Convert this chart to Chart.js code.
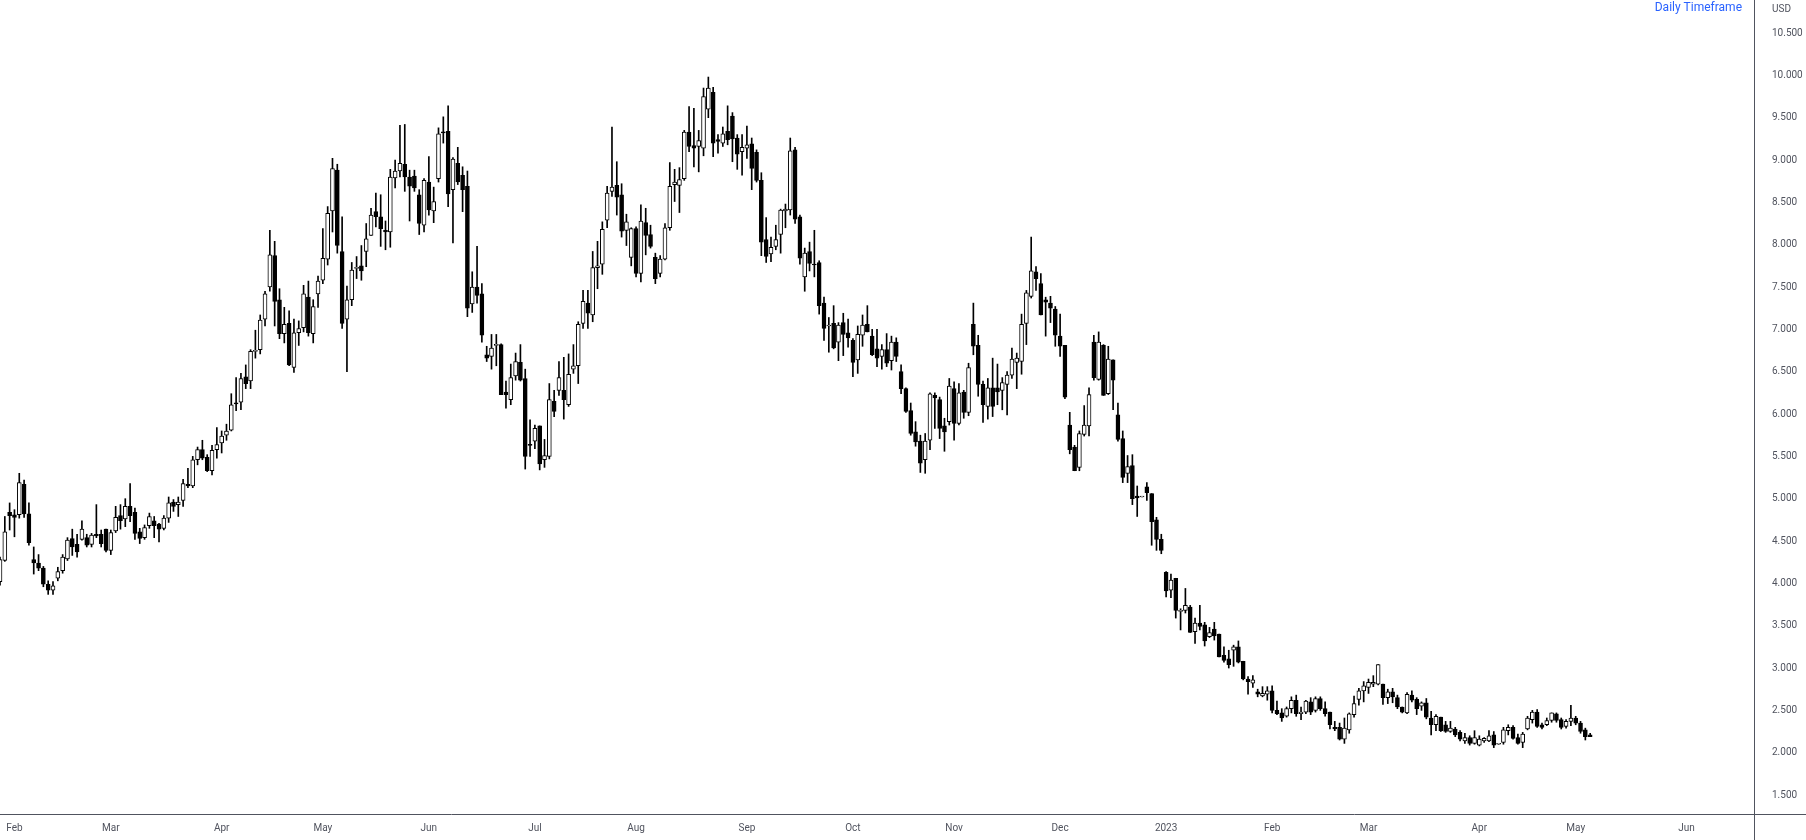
<!DOCTYPE html>
<html>
<head>
<meta charset="utf-8">
<title>velas diarias</title>
<script src="https://cdn.jsdelivr.net/npm/chart.js@4.4.1/dist/chart.umd.min.js"></script>
<style>
  html, body { margin: 0; padding: 0; background: #ffffff; }
  #grafico { display: block; }
</style>
</head>
<body>
<canvas id="grafico" width="1806" height="840"></canvas>
<script>
"use strict";
/* velas diarias - valores leidos a ojo del grafico */

var fechaInicio = "2022-01-27";
var totalDias = 365; // dias habiles del eje, incluye el hueco de la derecha
var nombresMes = ["Jan", "Feb", "Mar", "Apr", "May", "Jun", "Jul", "Aug", "Sep", "Oct", "Nov", "Dec"];
var ticksPrecio = [1.5, 2, 2.5, 3, 3.5, 4, 4.5, 5, 5.5, 6, 6.5, 7, 7.5, 8, 8.5, 9, 9.5, 10, 10.5];

var apertura = [
  4.02, 4.27, 4.84, 4.81, 4.81, 5.17, 4.82, 4.28, 4.24, 4.18,
  3.99, 3.92, 4.06, 4.15, 4.29, 4.53, 4.46, 4.52, 4.54, 4.46,
  4.58, 4.58, 4.64, 4.39, 4.62, 4.80, 4.76, 4.91, 4.84, 4.61,
  4.54, 4.68, 4.74, 4.70, 4.65, 4.77, 4.96, 4.93, 4.98, 5.17,
  5.15, 5.46, 5.58, 5.49, 5.33, 5.58, 5.66, 5.75, 5.81, 6.13,
  6.14, 6.44, 6.39, 6.74, 6.76, 7.12, 7.50, 7.87, 7.35, 6.95,
  7.07, 6.55, 6.96, 7.02, 7.38, 6.95, 7.42, 7.58, 7.83, 8.40,
  8.88, 7.92, 7.12, 7.35, 7.72, 7.75, 7.92, 8.11, 8.39, 8.33,
  8.17, 8.15, 8.79, 8.87, 8.95, 8.80, 8.81, 8.59, 8.23, 8.74,
  8.40, 8.78, 9.33, 9.34, 8.65, 8.96, 8.82, 8.69, 7.30, 7.50,
  7.42, 6.70, 6.68, 6.81, 6.82, 6.26, 6.17, 6.45, 6.61, 6.42,
  5.64, 5.68, 5.86, 5.46, 5.50, 6.15, 6.28, 6.28, 6.11, 6.53,
  6.57, 7.07, 7.31, 7.17, 7.73, 7.77, 8.29, 8.63, 8.70, 8.59,
  8.17, 7.85, 8.19, 7.66, 8.26, 8.12, 7.85, 7.66, 7.83, 8.20,
  8.71, 8.70, 8.78, 9.33, 9.17, 9.16, 9.14, 9.60, 9.80, 9.24,
  9.20, 9.34, 9.52, 9.26, 9.10, 9.14, 9.19, 9.09, 8.76, 8.06,
  7.89, 7.98, 8.12, 8.40, 8.41, 9.12, 8.33, 7.62, 7.92, 7.77,
  7.79, 7.31, 7.04, 7.07, 6.85, 7.08, 6.96, 6.87, 6.64, 6.93,
  7.06, 6.92, 6.77, 6.68, 6.76, 6.63, 6.85, 6.50, 6.30, 6.04,
  5.79, 5.68, 5.46, 5.69, 6.22, 6.17, 5.86, 5.91, 6.30, 5.89,
  6.26, 6.02, 7.06, 6.81, 6.35, 6.09, 6.31, 6.31, 6.28, 6.35,
  6.46, 6.61, 6.62, 7.07, 7.39, 7.68, 7.54, 7.35, 7.31, 7.24,
  6.92, 6.81, 5.87, 5.61, 5.37, 5.76, 5.86, 6.85, 6.41, 6.81,
  6.24, 6.64, 5.99, 5.71, 5.30, 5.39, 5.03, 5.02, 5.14, 5.06,
  4.75, 4.52, 4.13, 3.92, 4.06, 3.67, 3.68, 3.72, 3.43, 3.53,
  3.51, 3.37, 3.46, 3.40, 3.15, 3.11, 3.21, 3.25, 3.08, 2.87,
  2.82, 2.72, 2.67, 2.69, 2.73, 2.50, 2.47, 2.43, 2.52, 2.62,
  2.46, 2.48, 2.60, 2.50, 2.64, 2.52, 2.48, 2.30, 2.30, 2.16,
  2.27, 2.45, 2.63, 2.73, 2.77, 2.81, 2.81, 2.81, 2.65, 2.72,
  2.65, 2.54, 2.47, 2.68, 2.63, 2.55, 2.59, 2.41, 2.33, 2.42,
  2.33, 2.25, 2.28, 2.24, 2.14, 2.18, 2.11, 2.09, 2.14, 2.14,
  2.21, 2.10, 2.12, 2.26, 2.30, 2.18, 2.12, 2.28, 2.39, 2.48,
  2.33, 2.33, 2.38, 2.46, 2.39, 2.31, 2.37, 2.41, 2.35, 2.27,
  2.21
];

var maximo = [
  4.31, 4.79, 4.95, 4.87, 5.30, 5.22, 4.95, 4.43, 4.34, 4.20,
  4.03, 4.02, 4.19, 4.34, 4.54, 4.64, 4.58, 4.74, 4.58, 4.59,
  4.93, 4.63, 4.64, 4.63, 4.91, 4.93, 5.00, 5.18, 4.89, 4.65,
  4.69, 4.83, 4.79, 4.71, 4.80, 5.02, 4.99, 5.02, 5.23, 5.36,
  5.50, 5.61, 5.69, 5.52, 5.63, 5.84, 5.80, 5.88, 6.24, 6.43,
  6.48, 6.58, 6.76, 6.99, 7.17, 7.45, 8.17, 8.04, 7.48, 7.26,
  7.22, 7.12, 7.10, 7.52, 7.57, 7.35, 7.63, 8.19, 8.45, 9.02,
  8.95, 8.33, 7.51, 7.79, 7.86, 7.99, 8.25, 8.43, 8.61, 8.59,
  8.28, 8.89, 9.00, 9.41, 9.42, 8.88, 8.88, 8.65, 8.78, 9.04,
  8.68, 9.38, 9.51, 9.64, 9.03, 9.15, 8.92, 8.87, 7.68, 7.98,
  7.54, 6.80, 6.94, 6.94, 6.83, 6.39, 6.59, 6.72, 6.82, 6.53,
  5.93, 5.87, 5.86, 5.70, 6.36, 6.28, 6.62, 6.67, 6.71, 6.82,
  7.09, 7.46, 7.46, 7.92, 8.04, 8.27, 8.69, 9.39, 8.98, 8.72,
  8.36, 8.20, 8.21, 8.47, 8.43, 8.23, 7.90, 7.87, 8.25, 8.97,
  8.89, 8.91, 9.35, 9.63, 9.61, 9.35, 9.85, 9.98, 9.86, 9.30,
  9.39, 9.64, 9.56, 9.30, 9.30, 9.40, 9.26, 9.12, 8.85, 8.32,
  8.09, 8.23, 8.42, 8.48, 9.26, 9.15, 8.35, 7.96, 8.03, 8.17,
  7.81, 7.38, 7.14, 7.28, 7.08, 7.19, 7.12, 6.89, 7.04, 7.17,
  7.28, 7.00, 7.00, 6.82, 6.95, 6.92, 6.90, 6.58, 6.31, 6.13,
  5.91, 5.75, 5.77, 6.25, 6.25, 6.20, 5.95, 6.42, 6.38, 6.36,
  6.28, 6.60, 7.31, 6.93, 6.39, 6.42, 6.66, 6.59, 6.43, 6.50,
  6.78, 6.72, 7.18, 7.46, 8.09, 7.74, 7.66, 7.38, 7.39, 7.27,
  7.18, 6.81, 6.02, 5.63, 5.80, 6.10, 6.31, 6.93, 6.97, 6.82,
  6.80, 6.64, 6.13, 5.80, 5.51, 5.52, 5.15, 5.02, 5.19, 5.06,
  4.78, 4.58, 4.14, 4.11, 4.06, 3.70, 3.94, 3.74, 3.59, 3.74,
  3.54, 3.48, 3.54, 3.40, 3.25, 3.21, 3.27, 3.32, 3.08, 2.90,
  2.91, 2.75, 2.78, 2.78, 2.79, 2.61, 2.52, 2.54, 2.66, 2.68,
  2.54, 2.62, 2.65, 2.66, 2.66, 2.60, 2.48, 2.37, 2.35, 2.41,
  2.47, 2.67, 2.76, 2.84, 2.87, 2.91, 3.04, 2.81, 2.75, 2.76,
  2.68, 2.54, 2.71, 2.73, 2.65, 2.60, 2.64, 2.49, 2.45, 2.42,
  2.37, 2.37, 2.30, 2.26, 2.23, 2.20, 2.26, 2.20, 2.18, 2.26,
  2.25, 2.10, 2.30, 2.33, 2.32, 2.22, 2.24, 2.43, 2.50, 2.51,
  2.35, 2.41, 2.47, 2.47, 2.41, 2.39, 2.56, 2.43, 2.37, 2.29,
  2.23
];

var minimo = [
  3.98, 4.26, 4.63, 4.55, 4.77, 4.78, 4.45, 4.11, 4.15, 3.96,
  3.87, 3.87, 4.03, 4.12, 4.27, 4.33, 4.31, 4.51, 4.43, 4.43,
  4.54, 4.43, 4.37, 4.34, 4.60, 4.64, 4.67, 4.73, 4.52, 4.47,
  4.52, 4.65, 4.54, 4.49, 4.63, 4.72, 4.85, 4.79, 4.91, 5.13,
  5.13, 5.40, 5.46, 5.32, 5.28, 5.48, 5.54, 5.69, 5.80, 6.04,
  6.05, 6.30, 6.30, 6.66, 6.71, 7.04, 7.45, 7.04, 6.89, 6.84,
  6.57, 6.49, 6.81, 6.97, 6.92, 6.84, 7.26, 7.54, 7.76, 8.15,
  7.90, 7.01, 6.50, 7.28, 7.60, 7.58, 7.74, 8.11, 8.21, 7.98,
  7.94, 7.97, 8.67, 8.80, 8.63, 8.28, 8.63, 8.12, 8.15, 8.35,
  8.26, 8.74, 9.20, 8.45, 8.02, 8.71, 8.39, 7.15, 7.20, 7.31,
  6.85, 6.62, 6.53, 6.57, 6.23, 6.07, 6.11, 6.40, 6.39, 5.35,
  5.50, 5.59, 5.34, 5.37, 5.47, 5.97, 6.22, 5.94, 6.09, 6.48,
  6.36, 7.01, 7.01, 7.09, 7.48, 7.65, 8.20, 8.57, 8.35, 8.09,
  7.99, 7.75, 7.62, 7.56, 7.88, 7.96, 7.54, 7.62, 7.82, 8.17,
  8.51, 8.38, 8.76, 9.10, 8.92, 8.86, 9.05, 9.50, 9.04, 9.08,
  9.16, 9.18, 8.98, 8.89, 8.82, 9.02, 8.65, 8.74, 7.87, 7.79,
  7.80, 7.94, 7.90, 8.20, 8.35, 8.25, 7.77, 7.45, 7.69, 7.62,
  7.18, 6.87, 6.73, 6.77, 6.63, 6.69, 6.79, 6.44, 6.48, 6.80,
  6.97, 6.69, 6.56, 6.53, 6.56, 6.52, 6.62, 6.24, 6.02, 5.75,
  5.62, 5.31, 5.30, 5.58, 5.83, 5.71, 5.56, 5.87, 5.69, 5.87,
  5.95, 5.98, 6.70, 6.21, 5.90, 5.94, 5.97, 6.11, 6.05, 5.99,
  6.42, 6.30, 6.47, 6.82, 7.37, 7.46, 7.17, 6.92, 7.08, 6.80,
  6.68, 6.18, 5.53, 5.33, 5.33, 5.74, 5.74, 6.40, 6.40, 6.22,
  6.23, 6.05, 5.68, 5.19, 5.19, 4.93, 4.79, 5.02, 4.98, 4.45,
  4.39, 4.35, 3.84, 3.83, 3.59, 3.45, 3.65, 3.42, 3.29, 3.45,
  3.26, 3.36, 3.33, 3.13, 3.07, 3.00, 3.02, 3.06, 2.86, 2.69,
  2.77, 2.66, 2.66, 2.62, 2.47, 2.45, 2.37, 2.42, 2.47, 2.43,
  2.39, 2.46, 2.45, 2.48, 2.50, 2.43, 2.28, 2.26, 2.15, 2.11,
  2.23, 2.42, 2.56, 2.60, 2.70, 2.78, 2.80, 2.57, 2.58, 2.59,
  2.52, 2.47, 2.46, 2.60, 2.45, 2.50, 2.40, 2.21, 2.26, 2.25,
  2.24, 2.24, 2.19, 2.14, 2.11, 2.09, 2.10, 2.08, 2.12, 2.13,
  2.06, 2.10, 2.10, 2.21, 2.16, 2.10, 2.06, 2.27, 2.35, 2.30,
  2.28, 2.32, 2.36, 2.36, 2.28, 2.29, 2.32, 2.33, 2.23, 2.15,
  2.19
];

var cierre = [
  4.28, 4.61, 4.80, 4.78, 5.19, 4.82, 4.48, 4.24, 4.18, 3.99,
  3.92, 3.97, 4.14, 4.31, 4.51, 4.43, 4.37, 4.64, 4.45, 4.57,
  4.56, 4.47, 4.39, 4.60, 4.78, 4.74, 4.91, 4.80, 4.59, 4.53,
  4.66, 4.79, 4.68, 4.64, 4.77, 4.95, 4.91, 4.96, 5.18, 5.15,
  5.46, 5.58, 5.48, 5.33, 5.57, 5.64, 5.74, 5.80, 6.11, 6.12,
  6.42, 6.36, 6.74, 6.75, 7.11, 7.42, 7.88, 7.33, 6.95, 7.06,
  6.58, 6.96, 7.01, 7.42, 6.96, 7.27, 7.57, 7.84, 8.37, 8.90,
  7.99, 7.07, 7.35, 7.70, 7.73, 7.69, 8.07, 8.35, 8.33, 8.19,
  8.15, 8.80, 8.87, 8.96, 8.80, 8.69, 8.67, 8.25, 8.76, 8.41,
  8.51, 9.31, 9.32, 8.60, 9.01, 8.74, 8.65, 7.25, 7.50, 7.40,
  6.93, 6.66, 6.78, 6.82, 6.23, 6.23, 6.43, 6.62, 6.40, 5.50,
  5.63, 5.83, 5.41, 5.51, 6.17, 6.03, 6.43, 6.17, 6.47, 6.57,
  7.06, 7.33, 7.19, 7.73, 7.75, 8.18, 8.61, 8.68, 8.56, 8.16,
  8.27, 8.19, 7.66, 8.28, 8.11, 7.98, 7.60, 7.83, 8.20, 8.69,
  8.74, 8.77, 9.33, 9.16, 9.14, 9.23, 9.75, 9.85, 9.20, 9.22,
  9.31, 9.24, 9.25, 9.07, 9.15, 9.18, 8.90, 8.76, 8.03, 7.86,
  7.97, 8.06, 8.41, 8.42, 9.11, 8.30, 7.84, 7.90, 7.78, 7.76,
  7.28, 7.01, 7.04, 6.78, 7.05, 6.94, 6.90, 6.61, 6.94, 7.05,
  6.97, 6.70, 6.66, 6.76, 6.60, 6.85, 6.68, 6.30, 6.03, 5.77,
  5.67, 5.42, 5.68, 6.24, 6.19, 5.83, 5.79, 6.33, 5.89, 6.25,
  6.02, 6.55, 6.80, 6.35, 6.11, 6.31, 6.09, 6.26, 6.37, 6.46,
  6.65, 6.66, 7.06, 7.43, 7.69, 7.60, 7.17, 7.32, 7.25, 6.93,
  6.80, 6.20, 5.58, 5.33, 5.77, 5.87, 6.23, 6.43, 6.85, 6.22,
  6.65, 6.40, 5.70, 5.25, 5.38, 5.00, 5.01, 5.02, 5.07, 4.73,
  4.52, 4.39, 3.91, 4.04, 3.68, 3.67, 3.74, 3.42, 3.53, 3.49,
  3.32, 3.42, 3.38, 3.13, 3.09, 3.04, 3.25, 3.07, 2.87, 2.84,
  2.86, 2.69, 2.70, 2.73, 2.50, 2.46, 2.41, 2.52, 2.62, 2.46,
  2.48, 2.61, 2.48, 2.64, 2.52, 2.46, 2.33, 2.28, 2.16, 2.29,
  2.46, 2.58, 2.73, 2.79, 2.83, 2.83, 3.04, 2.65, 2.72, 2.66,
  2.54, 2.48, 2.69, 2.62, 2.52, 2.59, 2.42, 2.33, 2.43, 2.26,
  2.25, 2.29, 2.21, 2.16, 2.18, 2.11, 2.18, 2.16, 2.17, 2.20,
  2.09, 2.10, 2.27, 2.30, 2.17, 2.11, 2.22, 2.41, 2.48, 2.31,
  2.30, 2.38, 2.47, 2.38, 2.30, 2.37, 2.41, 2.35, 2.25, 2.19,
  2.19
];

(function () {

  // dias de semana desde la fecha de inicio
  function diasHabiles(inicio, n) {
    var salida = [];
    var d = new Date(inicio + "T00:00:00Z");
    while (salida.length < n) {
      var dia = d.getUTCDay();
      if (dia !== 0 && dia !== 6) { salida.push(d.toISOString().slice(0, 10)); }
      d.setUTCDate(d.getUTCDate() + 1);
    }
    return salida;
  }

  // sin relleno automatico de los ejes
  function sinRelleno(eje) {
    eje.paddingLeft = 0;
    eje.paddingRight = 0;
    eje.paddingTop = 0;
    eje.paddingBottom = 0;
  }

  var fechas = diasHabiles(fechaInicio, totalDias);
  var mechas = minimo.map(function (v, i) { return [v, maximo[i]]; });
  var cuerpos = apertura.map(function (v, i) { return [v, cierre[i]]; });
  var rellenos = apertura.map(function (v, i) { return cierre[i] >= v ? "#ffffff" : "#000000"; });

  var fuente = "Roboto, 'Liberation Sans', sans-serif";
  var gris = "#50535e";

  // ejes, usd y rotulo de arriba
  var marco = {
    id: "marco",
    afterDraw: function (chart) {
      var ctx = chart.ctx;
      var area = chart.chartArea;
      var xr = Math.round(area.right) + 0.5;
      var yb = Math.round(area.bottom) + 0.5;
      ctx.save();
      ctx.strokeStyle = "#50535e";
      ctx.lineWidth = 1;
      ctx.beginPath();
      ctx.moveTo(xr, 0);
      ctx.lineTo(xr, chart.height);
      ctx.moveTo(0, yb);
      ctx.lineTo(chart.width, yb);
      ctx.stroke();
      ctx.textBaseline = "middle";
      ctx.font = "10px " + fuente;
      ctx.fillStyle = gris;
      ctx.textAlign = "left";
      ctx.fillText("USD", area.right + 18, 9);
      ctx.font = "12px " + fuente;
      ctx.fillStyle = "#2962ff";
      ctx.textAlign = "right";
      ctx.fillText("Daily Timeframe", area.right - 12, 8);
      ctx.restore();
    }
  };

  new Chart(document.getElementById("grafico"), {
    type: "bar",
    data: {
      labels: fechas,
      datasets: [
        {
          label: "cuerpo",
          data: cuerpos,
          backgroundColor: rellenos,
          borderColor: "#000000",
          borderWidth: 1,
          borderSkipped: false,
          barThickness: 4,
          minBarLength: 1,
          grouped: false,
          order: 1
        },
        {
          label: "mecha",
          data: mechas,
          backgroundColor: "#000000",
          borderWidth: 0,
          barThickness: 1,
          grouped: false,
          order: 2
        }
      ]
    },
    options: {
      responsive: false,
      devicePixelRatio: 1,
      animation: false,
      layout: { padding: 0, autoPadding: false },
      plugins: { legend: { display: false }, tooltip: { enabled: false }, title: { display: false } },
      scales: {
        x: {
          type: "category",
          offset: false,
          grid: { display: false, drawTicks: false },
          border: { display: false },
          ticks: {
            autoSkip: false,
            maxRotation: 0,
            minRotation: 0,
            padding: 8,
            color: gris,
            font: { family: fuente, size: 10 },
            callback: function (valor, indice) {
              if (indice === 0) { return ""; }
              var f = fechas[indice];
              var p = fechas[indice - 1];
              if (f.slice(5, 7) === p.slice(5, 7)) { return ""; }
              var mes = parseInt(f.slice(5, 7), 10);
              return mes === 1 ? f.slice(0, 4) : nombresMes[mes - 1];
            }
          },
          afterFit: function (eje) { sinRelleno(eje); eje.height = 26; }
        },
        y: {
          position: "right",
          min: 1.276,
          max: 10.89,
          grid: { display: false, drawTicks: false },
          border: { display: false },
          ticks: {
            padding: 18,
            color: gris,
            font: { family: fuente, size: 10 },
            callback: function (v) { return v.toFixed(3); }
          },
          afterBuildTicks: function (eje) {
            eje.ticks = ticksPrecio.map(function (v) { return { value: v }; });
          },
          afterFit: function (eje) { sinRelleno(eje); eje.width = 52; }
        }
      }
    },
    plugins: [marco]
  });

})();
</script>
</body>
</html>
